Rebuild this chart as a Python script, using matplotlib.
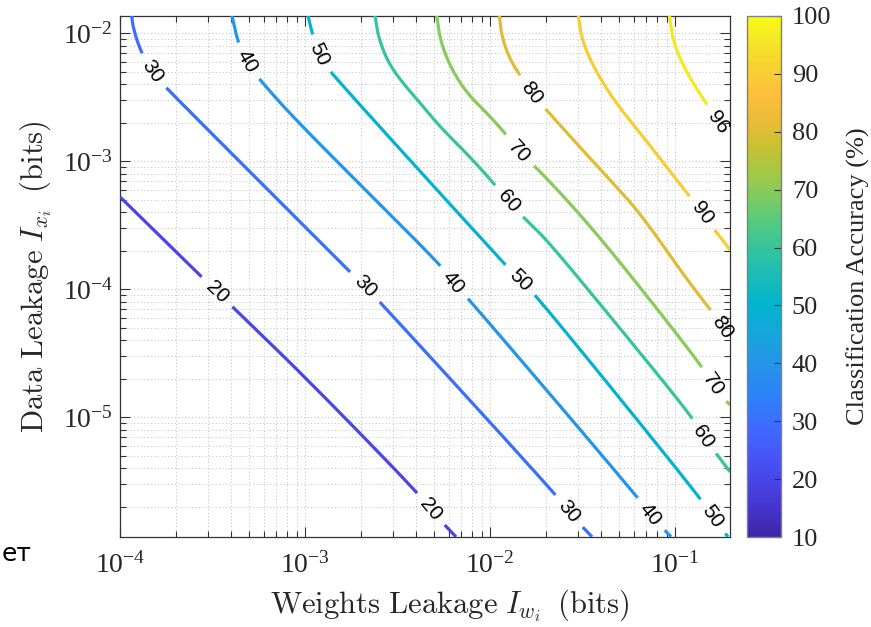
import numpy as np
import matplotlib
matplotlib.use('Agg')
import matplotlib.pyplot as plt
from matplotlib.colors import LinearSegmentedColormap, Normalize
from matplotlib.cm import ScalarMappable
from matplotlib.ticker import FuncFormatter, LogLocator, NullFormatter

plt.rcParams['font.family'] = ['Liberation Serif', 'DejaVu Serif']
plt.rcParams['mathtext.fontset'] = 'stix'

# ---------------- data (log10 values) ----------------
levels = [20, 30, 40, 50, 60, 70, 80, 90, 96]

acc20_logw = [-4.000, -3.476, -3.027, -2.389, -2.324, -2.184]
acc20_logx = [-3.278, -4.020, -4.644, -5.589, -5.721, -5.932]
acc20_lab_logw = [-3.476, -2.324]
acc20_lab_logx = [-4.020, -5.721]

acc30_logw = [-3.937, -3.930, -3.892, -3.827, -3.757, -3.027, -2.676, -2.605, -1.632, -1.578, -1.449]
acc30_logx = [-1.863, -1.951, -2.130, -2.302, -2.419, -3.473, -3.980, -4.082, -5.620, -5.737, -5.932]
acc30_lab_logw = [-3.827, -2.676, -1.578]
acc30_lab_logx = [-2.302, -3.980, -5.737]

acc40_logw = [-3.395, -3.362, -3.314, -3.259, -3.027, -2.254, -2.200, -2.124, -1.189, -1.135, -1.022]
acc40_logx = [-1.863, -2.076, -2.224, -2.341, -2.716, -3.825, -3.950, -4.059, -5.644, -5.761, -5.932]
acc40_lab_logw = [-3.314, -2.200, -1.135]
acc40_lab_logx = [-2.224, -3.950, -5.761]

acc50_logw = [-2.984, -2.962, -2.930, -2.876, -1.908, -1.838, -1.730, -0.854, -0.800, -0.714]
acc50_logx = [-1.863, -1.998, -2.169, -2.287, -3.825, -3.927, -4.082, -5.644, -5.776, -5.932]
acc50_lab_logw = [-2.930, -1.838, -0.800]
acc50_lab_logx = [-2.169, -3.927, -5.776]

acc60_logw = [-2.622, -2.604, -2.558, -2.486, -2.378, -2.270, -2.108, -1.964, -1.903, -1.822,
              -1.692, -1.335, -0.903, -0.849, -0.784, -0.703]
acc60_logx = [-1.863, -2.027, -2.208, -2.365, -2.544, -2.732, -2.966, -3.198, -3.317, -3.434,
              -3.614, -4.238, -5.003, -5.151, -5.269, -5.425]
acc60_lab_logw = [-1.903, -0.849]
acc60_lab_logx = [-3.317, -5.151]

acc70_logw = [-2.288, -2.270, -2.216, -2.126, -2.018, -1.910, -1.849, -1.775, -1.585, -1.405,
              -1.135, -0.849, -0.795, -0.741, -0.703]
acc70_logx = [-1.863, -2.052, -2.261, -2.468, -2.622, -2.794, -2.927, -3.012, -3.301, -3.598,
              -4.082, -4.613, -4.746, -4.847, -4.902]
acc70_lab_logw = [-1.849, -0.795]
acc70_lab_logx = [-2.927, -4.746]

acc80_logw = [-1.950, -1.937, -1.892, -1.829, -1.775, -1.712, -1.550, -1.369, -1.189, -0.935,
              -0.795, -0.746, -0.703]
acc80_logx = [-1.863, -2.027, -2.208, -2.349, -2.466, -2.573, -2.833, -3.119, -3.403, -3.926,
              -4.183, -4.300, -4.379]
acc80_lab_logw = [-1.775, -0.746]
acc80_lab_logx = [-2.466, -4.300]

acc90_logw = [-1.523, -1.504, -1.442, -1.333, -1.189, -0.919, -0.854, -0.795, -0.703]
acc90_logx = [-1.863, -2.052, -2.261, -2.521, -2.779, -3.278, -3.403, -3.520, -3.692]
acc90_lab_logw = [-0.854]
acc90_lab_logx = [-3.403]

acc96_logw = [-1.031, -1.009, -0.937, -0.820, -0.768, -0.703]
acc96_logx = [-1.863, -2.078, -2.312, -2.573, -2.700, -2.817]
acc96_lab_logw = [-0.768]
acc96_lab_logx = [-2.700]

x_ticks = [1e-4, 1e-3, 1e-2, 1e-1]
y_ticks = [1e-5, 1e-4, 1e-3, 1e-2]
cbar_ticks = [10, 20, 30, 40, 50, 60, 70, 80, 90, 100]
xlim = (1e-4, 0.198)
ylim = (1.16e-6, 1.37e-2)
cmin, cmax = 10, 100

paths = {
    20: (acc20_logw, acc20_logx, acc20_lab_logw, acc20_lab_logx),
    30: (acc30_logw, acc30_logx, acc30_lab_logw, acc30_lab_logx),
    40: (acc40_logw, acc40_logx, acc40_lab_logw, acc40_lab_logx),
    50: (acc50_logw, acc50_logx, acc50_lab_logw, acc50_lab_logx),
    60: (acc60_logw, acc60_logx, acc60_lab_logw, acc60_lab_logx),
    70: (acc70_logw, acc70_logx, acc70_lab_logw, acc70_lab_logx),
    80: (acc80_logw, acc80_logx, acc80_lab_logw, acc80_lab_logx),
    90: (acc90_logw, acc90_logx, acc90_lab_logw, acc90_lab_logx),
    96: (acc96_logw, acc96_logx, acc96_lab_logw, acc96_lab_logx),
}

# ---------------- parula-like colormap ----------------
parula_pts = [
    (0.000, (0.2422, 0.1504, 0.6603)), (0.050, (0.2691, 0.1979, 0.7901)),
    (0.100, (0.2810, 0.2621, 0.8965)), (0.150, (0.2783, 0.3296, 0.9626)),
    (0.200, (0.2586, 0.4003, 0.9952)), (0.250, (0.1986, 0.4781, 0.9869)),
    (0.300, (0.1582, 0.5442, 0.9476)), (0.350, (0.1300, 0.6060, 0.8900)),
    (0.400, (0.0667, 0.6613, 0.8529)), (0.450, (0.0086, 0.7046, 0.8056)),
    (0.500, (0.1012, 0.7377, 0.7190)), (0.550, (0.1959, 0.7683, 0.6190)),
    (0.600, (0.3186, 0.7920, 0.5116)), (0.650, (0.4810, 0.7983, 0.3911)),
    (0.700, (0.6409, 0.7858, 0.2764)), (0.750, (0.7906, 0.7566, 0.1903)),
    (0.800, (0.9195, 0.7334, 0.2102)), (0.850, (0.9946, 0.7484, 0.2381)),
    (0.900, (0.9683, 0.8171, 0.1957)), (0.950, (0.9594, 0.8984, 0.1479)),
    (1.000, (0.9769, 0.9839, 0.0805)),
]
parula = LinearSegmentedColormap.from_list('parula', parula_pts, N=256)
norm = Normalize(cmin, cmax)

# ---------------- figure ----------------
W, H = 871, 627
fig = plt.figure(figsize=(W / 100, H / 100), dpi=100)
fig.patch.set_facecolor('white')
ax = fig.add_axes([120 / W, 1 - 537.3 / H, 610 / W, (537.3 - 15.7) / H])
ax.set_xscale('log')
ax.set_yscale('log')
ax.set_xlim(*xlim)
ax.set_ylim(*ylim)

ax.grid(True, which='both', linestyle=(0, (1, 2.5)), color='#bdbdbd', linewidth=0.7)
ax.set_axisbelow(True)

ax.xaxis.set_major_locator(LogLocator(base=10, numticks=20))
ax.yaxis.set_major_locator(LogLocator(base=10, numticks=20))
ax.xaxis.set_minor_locator(LogLocator(base=10, subs=np.arange(2, 10), numticks=20))
ax.yaxis.set_minor_locator(LogLocator(base=10, subs=np.arange(2, 10), numticks=20))
fmt = FuncFormatter(lambda v, _: r'$\mathdefault{10^{%d}}$' % int(round(np.log10(v))))
ax.xaxis.set_major_formatter(fmt)
ax.yaxis.set_major_formatter(fmt)
ax.xaxis.set_minor_formatter(NullFormatter())
ax.yaxis.set_minor_formatter(NullFormatter())
ax.set_xticks(x_ticks)
ax.set_yticks(y_ticks)
ax.tick_params(which='both', direction='in', top=True, right=True, color='#333333', width=0.8)
ax.tick_params(which='major', length=7, labelsize=20, labelcolor='#262626')
ax.tick_params(which='minor', length=4)
ax.tick_params(axis='x', which='major', pad=11)
ax.tick_params(axis='y', which='major', pad=5)
for s in ax.spines.values():
    s.set_color('#333333')
    s.set_linewidth(0.9)


def chaikin(p, n=3):
    for _ in range(n):
        q = [p[0]]
        for a, b in zip(p[:-1], p[1:]):
            q.append(0.75 * a + 0.25 * b)
            q.append(0.25 * a + 0.75 * b)
        q.append(p[-1])
        p = np.array(q)
    return p


def densify(p, n=20):
    out = []
    for a, b in zip(p[:-1], p[1:]):
        t = np.linspace(0, 1, n, endpoint=False)[:, None]
        out.append(a + (b - a) * t)
    out.append(p[-1:])
    return np.vstack(out)


gap_r = 21.0
for lev in levels:
    lw_, lx_, labw, labx = paths[lev]
    p = np.column_stack([lw_, lx_]).astype(float)
    p = chaikin(p, 3)
    d = densify(p, 20)
    data = 10.0 ** d
    disp = ax.transData.transform(data)
    keep = np.ones(len(d), bool)
    lab_info = []
    for a, b in zip(labw, labx):
        ld = ax.transData.transform([[10.0 ** a, 10.0 ** b]])[0]
        k = int(np.argmin(np.hypot(*(disp - ld).T)))
        c = disp[k]
        keep &= np.hypot(*(disp - c).T) > gap_r
        dist = np.hypot(*(disp - c).T)
        near = np.where(dist < 12)[0]
        k0, k1 = near.min(), near.max()
        v = disp[k1] - disp[k0]
        ang = np.degrees(np.arctan2(v[1], v[0]))
        if ang > 90:
            ang -= 180
        if ang < -90:
            ang += 180
        lab_info.append((data[k], ang))
    xs = data[:, 0].copy()
    ys = data[:, 1].copy()
    xs[~keep] = np.nan
    ys[~keep] = np.nan
    ax.plot(xs, ys, color=parula(norm(lev)), linewidth=2.3, solid_capstyle='butt', zorder=3)
    for (pt, ang) in lab_info:
        ax.text(pt[0], pt[1], str(lev), rotation=ang, rotation_mode='anchor',
                ha='center', va='center', fontsize=15, family=['Liberation Sans', 'DejaVu Sans'],
                color='black', zorder=4, clip_on=False)

# axis labels (LaTeX style)
fig.text(450 / W, 1 - 613 / H,
         r'$\mathrm{Weights\ Leakage}\ I_{w_i}\;\;\mathrm{(bits)}$',
         ha='center', va='baseline', fontsize=22, math_fontfamily='cm', color='#262626')
fig.text(43 / W, 1 - 276.5 / H,
         r'$\mathrm{Data\ Leakage}\ I_{x_i}\;\;\mathrm{(bits)}$',
         ha='center', va='baseline', rotation=90, rotation_mode='anchor',
         fontsize=22, math_fontfamily='cm', color='#262626')

# colorbar
cax = fig.add_axes([746.7 / W, 1 - 537.3 / H, 34 / W, (537.3 - 15.7) / H])
sm = ScalarMappable(norm=norm, cmap=parula)
cb = fig.colorbar(sm, cax=cax, ticks=cbar_ticks)
cb.outline.set_edgecolor('#808080')
cb.outline.set_linewidth(1.0)
cax.tick_params(direction='in', length=5, width=0.8, color='#333333',
                labelsize=19, labelcolor='#262626', pad=8)
cax.minorticks_off()
fig.text(865 / W, 1 - 276.5 / H, 'Classification Accuracy (%)', rotation=90,
         rotation_mode='anchor', ha='center', va='baseline', fontsize=19, color='#262626')

# stray caption fragment at bottom-left
fig.text(0.002, 1 - 561 / H, 'ет', ha='left', va='baseline', fontsize=18,
         family=['DejaVu Sans'], color='black')

fig.savefig('out.png', dpi=100, facecolor='white')
